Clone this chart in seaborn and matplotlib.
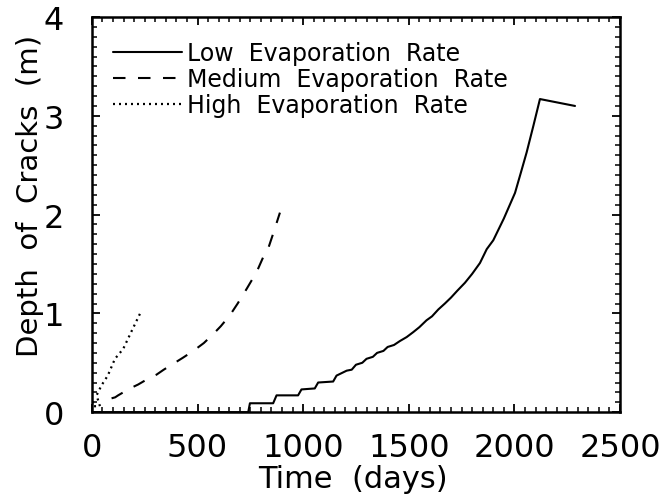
import numpy as np
import pandas as pd
import matplotlib
matplotlib.use('Agg')
import matplotlib.pyplot as plt
from matplotlib.ticker import MultipleLocator
import seaborn as sns

# Data
low_days = [0, 740, 748, 858, 874, 976, 992, 1055, 1071, 1142, 1158, 1206, 1230,
            1250, 1280, 1300, 1330, 1350, 1380, 1400, 1430, 1458, 1490, 1521, 1550,
            1584, 1610, 1640, 1671, 1700, 1730, 1766, 1800, 1837, 1869, 1900, 1950,
            2003, 2030, 2058, 2090, 2121, 2287]
low_depth = [0.0, 0.0, 0.09, 0.09, 0.17, 0.17, 0.23, 0.24, 0.30, 0.31, 0.37, 0.42, 0.43,
             0.48, 0.50, 0.54, 0.56, 0.60, 0.62, 0.66, 0.68, 0.72, 0.76, 0.81, 0.86,
             0.93, 0.97, 1.04, 1.10, 1.16, 1.23, 1.31, 1.40, 1.51, 1.65, 1.74, 1.96,
             2.22, 2.42, 2.63, 2.90, 3.17, 3.10]

med_days = [93, 110, 124, 180, 219, 267, 306, 340, 385, 430, 480, 530, 574, 610,
            653, 690, 733, 780, 813, 835, 860, 890]
med_depth = [0.14, 0.15, 0.17, 0.24, 0.28, 0.34, 0.38, 0.43, 0.49, 0.55, 0.62, 0.70,
             0.79, 0.87, 0.98, 1.10, 1.25, 1.42, 1.58, 1.66, 1.82, 2.02]

high_days = [5, 5, 38, 22, 45, 75, 109, 148, 190, 235]
high_depth = [0.11, 0.06, 0.06, 0.17, 0.27, 0.37, 0.54, 0.64, 0.83, 1.03]

labels = ['Low  Evaporation  Rate', 'Medium  Evaporation  Rate', 'High  Evaporation  Rate']

sns.set_style('ticks')
plt.rcParams['font.family'] = ['DejaVu Sans']
plt.rcParams.update({'text.color': 'black', 'axes.labelcolor': 'black',
                     'xtick.color': 'black', 'ytick.color': 'black'})

fig, ax = plt.subplots(figsize=(6.71, 5.02), dpi=100)
fig.subplots_adjust(left=0.137, right=0.924, bottom=0.177, top=0.964)

sns.lineplot(x=low_days, y=low_depth, ax=ax, color='black', lw=1.5,
             sort=False, estimator=None, label=labels[0])
sns.lineplot(x=med_days, y=med_depth, ax=ax, color='black', lw=1.5,
             linestyle=(0, (6, 6)), sort=False, estimator=None, label=labels[1])
sns.lineplot(x=high_days, y=high_depth, ax=ax, color='black', lw=1.6,
             linestyle=(0, (0.9, 1.8)), sort=False, estimator=None, label=labels[2])

ax.set_xlim(0, 2500)
ax.set_ylim(0, 4)
ax.xaxis.set_major_locator(MultipleLocator(500))
ax.xaxis.set_minor_locator(MultipleLocator(50))
ax.yaxis.set_major_locator(MultipleLocator(1))
ax.yaxis.set_minor_locator(MultipleLocator(0.1))
ax.tick_params(which='both', direction='in', top=True, right=True, color='black')
ax.tick_params(which='major', length=6, width=1.3, labelsize=23, pad=14)
ax.tick_params(which='minor', length=3.5, width=1.1)
ax.tick_params(axis='y', which='major', pad=20)
for s in ax.spines.values():
    s.set_linewidth(1.8)
    s.set_color('black')

ax.set_xlabel('Time  (days)', fontsize=22)
ax.set_ylabel('Depth  of  Cracks  (m)', fontsize=21)
ax.xaxis.set_label_coords(0.494, -0.13)
ax.yaxis.label.set_va('center')
ax.yaxis.set_label_coords(-0.118, 0.55)

leg = ax.legend(loc='upper left', bbox_to_anchor=(0.04, 0.94), frameon=False,
                fontsize=17, handlelength=2.9, handletextpad=0.25,
                labelspacing=0.1, borderaxespad=0, borderpad=0)

plt.savefig('out.png', dpi=100)
